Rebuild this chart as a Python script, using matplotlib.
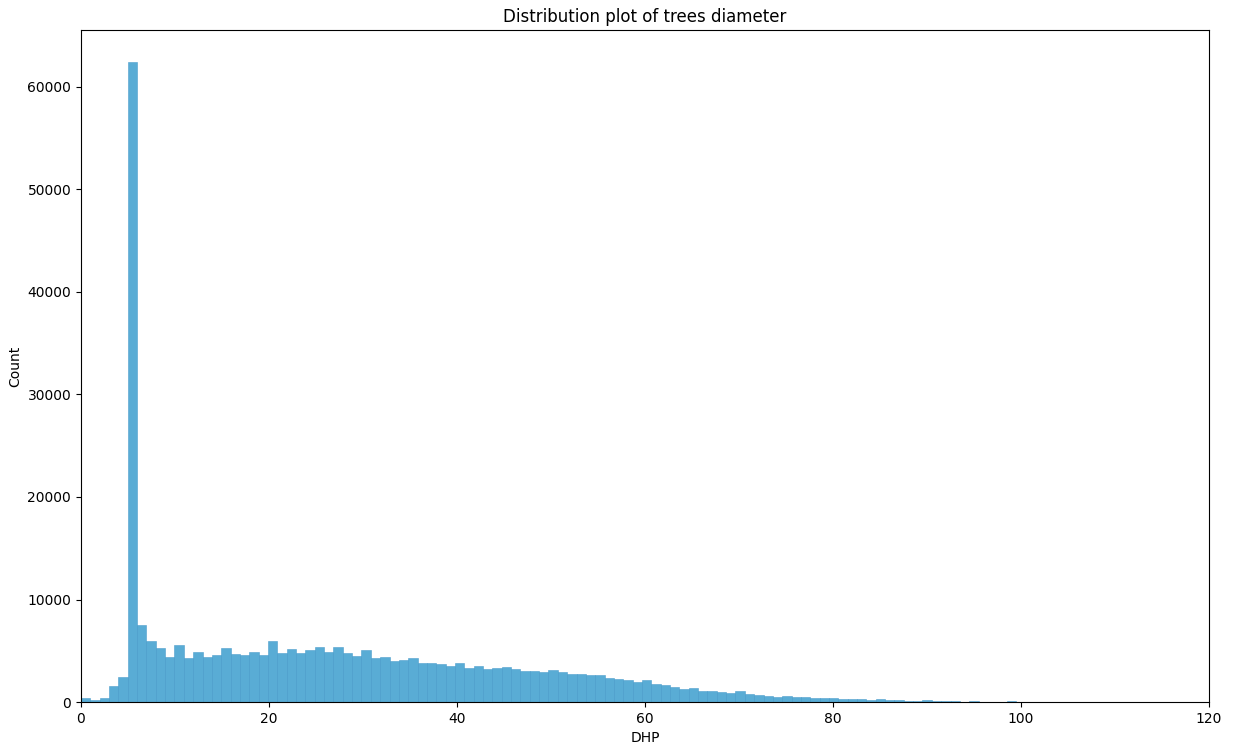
import numpy as np
import pandas as pd
import matplotlib
matplotlib.use("Agg")
import matplotlib.pyplot as plt
import seaborn as sns

# bin edges of the DHP histogram (113 bins, 0 -> 112.4)
bin_edges = np.linspace(0, 112.4, 114)
bin_centers = (bin_edges[:-1] + bin_edges[1:]) / 2

# counts, one per bin
counts = [
    390, 230, 360, 1530, 2430, 62430, 7540, 5980, 5260, 4380,
    5550, 4290, 4870, 4380, 4580, 5260, 4680, 4580, 4910, 4580,
    5980, 4770, 5160, 4770, 5060, 5360, 4870, 5360, 4770, 4480,
    5060, 4290, 4380, 3990, 4090, 4290, 3800, 3800, 3700, 3510,
    3800, 3280, 3480, 3180, 3280, 3380, 3180, 2990, 2990, 2890,
    3090, 2890, 2700, 2700, 2600, 2600, 2310, 2210, 2110, 1920,
    2110, 1720, 1630, 1500, 1300, 1400, 1100, 1100, 1010, 910,
    1040, 810, 710, 620, 490, 620, 490, 490, 390, 390,
    390, 290, 290, 290, 160, 330, 230, 230, 130, 130,
    230, 130, 130, 130, 40, 130, 50, 40, 50, 60,
    50, 40, 50, 40, 50, 40, 0, 40, 40, 0,
    40, 30, 40,
]

df = pd.DataFrame({'DHP': bin_centers, 'n': counts})

fig = plt.figure(figsize=(12.34, 7.51), dpi=100)
ax = fig.add_subplot(111)
fig.subplots_adjust(left=0.0656, right=0.9797, bottom=0.0652, top=0.9601)

sns.histplot(data=df, x='DHP', weights='n', bins=list(bin_edges), color='#2290c8',
             edgecolor='#4f9fcc', linewidth=0.4, ax=ax)

ax.set_xlim(0, 120)
ax.set_xlabel('DHP')
ax.set_ylabel('Count')
ax.set_title('Distribution plot of trees diameter', fontsize=12)

plt.savefig('out.png', dpi=100)
